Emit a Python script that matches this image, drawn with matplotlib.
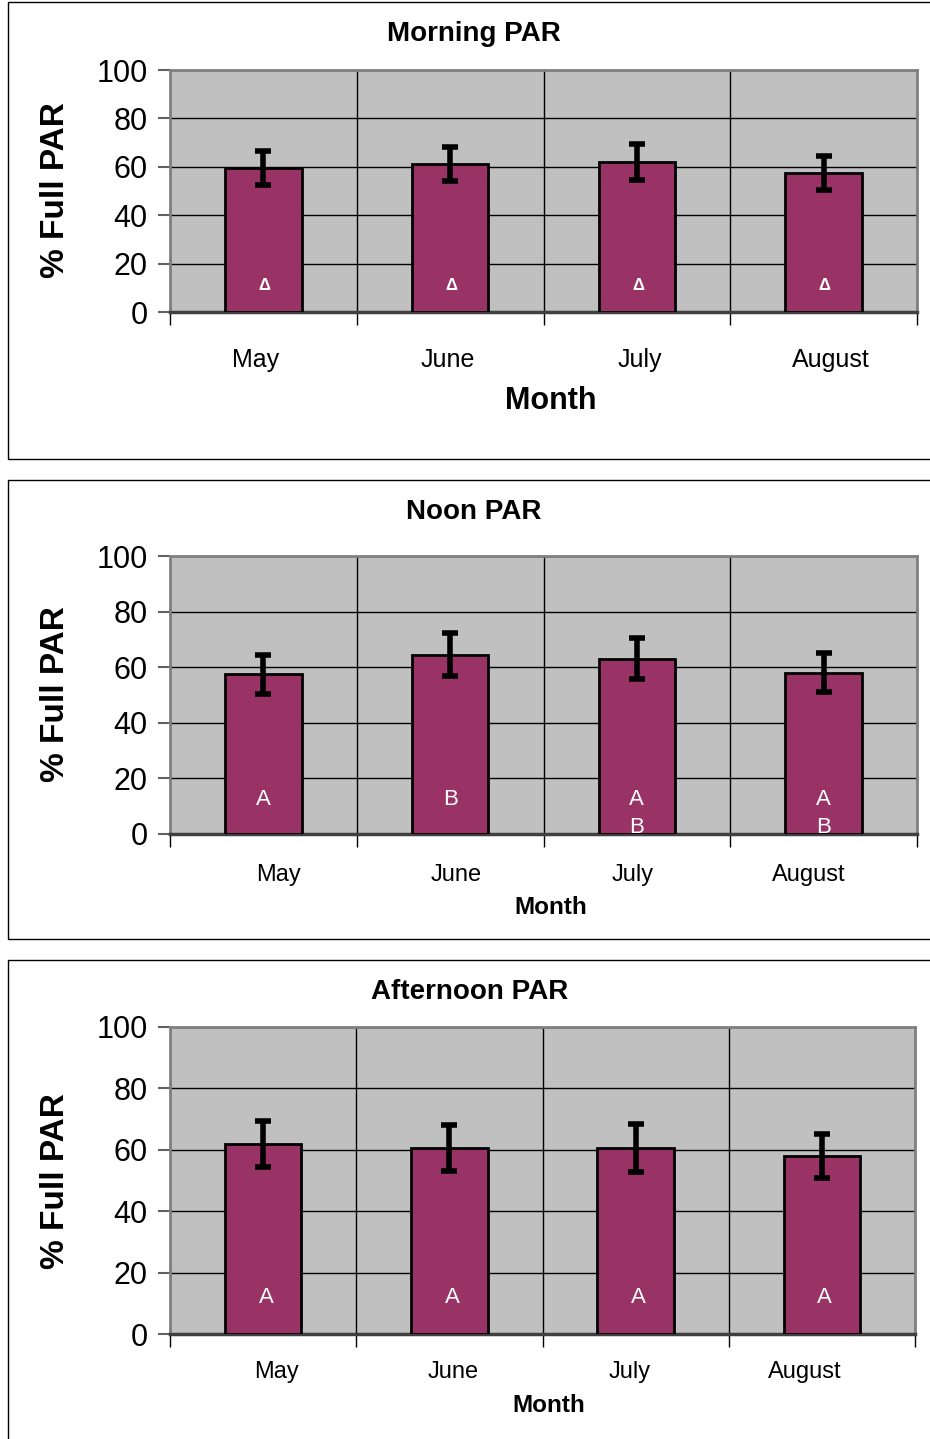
import matplotlib
matplotlib.use("Agg")
import matplotlib.pyplot as plt
from matplotlib.patches import Rectangle
from matplotlib.transforms import blended_transform_factory, offset_copy

plt.rcParams['font.family'] = ['Liberation Sans', 'DejaVu Sans']

months = ["May", "June", "July", "August"]
titles = ["Morning PAR", "Noon PAR", "Afternoon PAR"]

morning = [59.5, 61, 62, 57.5]
morning_err = [7, 7, 7.5, 7]
noon = [57.5, 64.5, 63, 58]
noon_err = [7, 7.7, 7.4, 7]
afternoon = [62, 60.5, 60.5, 58]
afternoon_err = [7.5, 7.5, 7.8, 7.2]

morning_letters = ["\u0394", "\u0394", "\u0394", "\u0394"]
noon_letters = ["A", "B", "A\nB", "A\nB"]
afternoon_letters = ["A", "A", "A", "A"]

yticks = [0, 20, 40, 60, 80, 100]

W, H = 930, 1439
BAR = "#993366"
BG = "#C0C0C0"

fig = plt.figure(figsize=(W / 100, H / 100), dpi=100)


def fx(px):
    return px / W


def fy(py):
    return 1 - py / H


# panel layout in pixels
panels = [
    dict(box=(2, 459), ax=(170, 917, 70, 312), title_y=34, title_x=474, ylab_y=190,
         cat_y=360, month_y=401, month_x=551, month_fs=22, cat_fs=18,
         offs=[-8, -2, 3, 7], vals=morning, err=morning_err, letters=morning_letters,
         let_fs=12, let_w="bold", let_y=11, line_gap=10, let_dx=1),
    dict(box=(480, 939), ax=(170, 917, 556, 834), title_y=512, title_x=474, ylab_y=694,
         cat_y=875, month_y=907, month_x=551, month_fs=17.5, cat_fs=17,
         offs=[15, 6, -4, -15], vals=noon, err=noon_err, letters=noon_letters,
         let_fs=16, let_w="normal", let_y=12.5, line_gap=10.3, let_dx=0),
    dict(box=(960, 1445), ax=(170, 915, 1027, 1334), title_y=992, title_x=470, ylab_y=1181,
         cat_y=1372, month_y=1406, month_x=549, month_fs=17.5, cat_fs=17,
         offs=[13, 4, -6, -17], vals=afternoon, err=afternoon_err, letters=afternoon_letters,
         let_fs=16, let_w="normal", let_y=12, line_gap=10, let_dx=3),
]

for i, p in enumerate(panels):
    bt, bb = p["box"]
    fig.patches.append(Rectangle((fx(8), fy(bb)), fx(940) - fx(8), fy(bt) - fy(bb),
                                 transform=fig.transFigure, fill=False,
                                 edgecolor="black", linewidth=1.0, clip_on=False))
    l, r, t, b = p["ax"]
    ax = fig.add_axes([fx(l), fy(b), fx(r) - fx(l), fy(t) - fy(b)])
    ax.set_facecolor(BG)
    x = list(range(len(months)))
    ax.bar(x, p["vals"], width=0.41, color=BAR, edgecolor="black", linewidth=2, zorder=3)
    ax.errorbar(x, p["vals"], yerr=p["err"], fmt="none", ecolor="black",
                elinewidth=4, capsize=6, capthick=4, zorder=4)
    let_tr = offset_copy(ax.transData, fig=fig, x=p["let_dx"], y=0, units="dots")
    for xi, lab in zip(x, p["letters"]):
        for k, part in enumerate(lab.split("\n")):
            ax.text(xi, p["let_y"] - k * p["line_gap"], part, color="white",
                    ha="center", va="center", fontsize=p["let_fs"], transform=let_tr,
                    fontweight=p["let_w"], zorder=5, clip_on=True)
    ax.set_xlim(-0.5, len(months) - 0.5)
    ax.set_ylim(0, 100)
    ax.set_yticks(yticks)
    ax.set_yticklabels([str(v) for v in yticks], fontsize=22)
    ax.set_xticks([v - 0.5 for v in range(len(months) + 1)])
    ax.set_xticklabels([])
    ax.tick_params(axis="x", length=9, width=1, color="black", direction="out")
    ax.tick_params(axis="y", length=9, width=1.5, color="#606060", pad=7)
    ax.grid(True, color="black", linewidth=1, zorder=1)
    ax.set_axisbelow(True)
    for side in ["top", "right", "left"]:
        ax.spines[side].set_color("#808080")
        ax.spines[side].set_linewidth(2)
    ax.spines["bottom"].set_color("#404040")
    ax.spines["bottom"].set_linewidth(2.5)

    trans = blended_transform_factory(ax.transData, fig.transFigure)
    for xi, m, off in zip(x, months, p["offs"]):
        tr = offset_copy(trans, fig=fig, x=off, y=0, units="dots")
        ax.text(xi, fy(p["cat_y"]), m, transform=tr, ha="center", va="center",
                fontsize=p["cat_fs"])

    fig.text(fx(p["title_x"]), fy(p["title_y"]), titles[i], ha="center", va="center",
             fontsize=20, fontweight="bold")
    fig.text(fx(55), fy(p["ylab_y"]), "% Full PAR", ha="center", va="center",
             rotation=90, fontsize=24, fontweight="bold")
    fig.text(fx(p["month_x"]), fy(p["month_y"]), "Month", ha="center", va="center",
             fontsize=p["month_fs"], fontweight="bold")

fig.savefig("out.png", dpi=100)
